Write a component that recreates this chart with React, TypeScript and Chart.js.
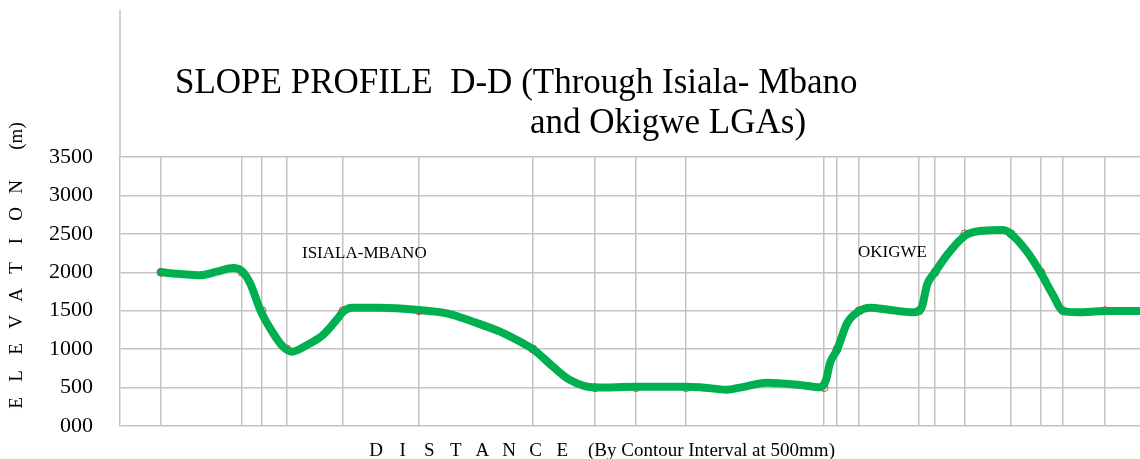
import React, { useEffect, useRef } from "react";
import { Chart, registerables } from "chart.js";

Chart.register(...registerables);

// Survey stations (distance units along the section) and their contour elevations (m)
const stationDistance = [41, 122, 142, 167, 223, 299, 413, 475, 516, 566, 704, 717, 739, 799, 815, 845, 891, 921, 943, 985];
const stationElevation = [2000, 2000, 1500, 1000, 1500, 1500, 1000, 500, 500, 500, 500, 1000, 1500, 1500, 2000, 2500, 2500, 2000, 1500, 1500];

// Smoothed (hand-drawn) profile line
const profileDistance = [41, 63, 80, 97, 113, 122, 130, 141, 153, 163, 172, 187, 203, 218, 223, 232, 260, 299, 327, 353, 380, 403, 413, 433, 450, 475, 517, 565, 580, 607, 620, 647, 680, 700, 706, 710, 717, 727, 738, 750, 770, 793, 798, 802, 807, 815, 827, 845, 863, 883, 890, 907, 920, 933, 943, 957, 985, 1020];
const profileElevation = [2000, 1974, 1962, 2008, 2055, 2015, 1860, 1487, 1210, 1032, 967, 1054, 1184, 1405, 1487, 1540, 1540, 1510, 1466, 1357, 1227, 1076, 1000, 772, 598, 500, 510, 510, 505, 472, 500, 563, 533, 503, 598, 820, 989, 1336, 1487, 1540, 1510, 1479, 1490, 1552, 1834, 2000, 2225, 2476, 2541, 2550, 2510, 2268, 2008, 1704, 1496, 1479, 1496, 1496];

const yTickValues = [0, 500, 1000, 1500, 2000, 2500, 3000, 3500];
const yTickLabels = ["000", "500", "1000", "1500", "2000", "2500", "3000", "3500"];

const titleLine1 = "SLOPE PROFILE  D-D (Through Isiala- Mbano";
const titleLine2 = "and Okigwe LGAs)";
const yAxisTitleLetters = ["E", "L", "E", "V", "A", "T", "I", "O", "N"];
const yAxisUnit = "(m)";
const xAxisTitleLetters = ["D", "I", "S", "T", "A", "N", "C", "E"];
const xAxisNote = "(By Contour Interval at 500mm)";
const annotations = [
  { text: "ISIALA-MBANO", x: 302, y: 258 },
  { text: "OKIGWE", x: 858, y: 257 },
];

const SERIF = "'Liberation Serif', 'Times New Roman', serif";
const GRID = "#c3c3c3";

const decorPlugin = {
  id: "decor",
  afterDraw(chart: any) {
    const ctx = chart.ctx as CanvasRenderingContext2D;
    const area = chart.chartArea;
    ctx.save();
    // extended left frame line
    ctx.strokeStyle = GRID;
    ctx.lineWidth = 1.5;
    ctx.beginPath();
    ctx.moveTo(area.left, 10);
    ctx.lineTo(area.left, area.top);
    ctx.stroke();

    ctx.fillStyle = "#000";
    ctx.textBaseline = "alphabetic";
    ctx.textAlign = "left";
    ctx.font = `35px ${SERIF}`;
    ctx.fillText(titleLine1, 175, 93);
    ctx.fillText(titleLine2, 530, 133);

    ctx.font = `17px ${SERIF}`;
    annotations.forEach((a) => ctx.fillText(a.text, a.x, a.y));

    // x axis title
    ctx.font = `19px ${SERIF}`;
    ctx.textAlign = "center";
    xAxisTitleLetters.forEach((ch, i) => ctx.fillText(ch, 376 + i * 26.6, 456));
    ctx.textAlign = "left";
    ctx.fillText(xAxisNote, 588, 456);

    // y axis title (rotated)
    ctx.font = `19px ${SERIF}`;
    ctx.textAlign = "center";
    ctx.textBaseline = "middle";
    const drawRot = (t: string, x: number, y: number) => {
      ctx.save();
      ctx.translate(x, y);
      ctx.rotate(-Math.PI / 2);
      ctx.fillText(t, 0, 0);
      ctx.restore();
    };
    yAxisTitleLetters.forEach((ch, i) => drawRot(ch, 17, 403 - i * 27));
    drawRot(yAxisUnit, 17, 136);
    ctx.restore();
  },
};

export default function App() {
  const ref = useRef<HTMLCanvasElement | null>(null);
  useEffect(() => {
    if (!ref.current) return;
    const chart = new Chart(ref.current, {
      type: "line",
      data: {
        datasets: [
          {
            label: "Profile",
            data: profileDistance.map((d, i) => ({ x: d, y: profileElevation[i] })),
            borderColor: "#00b050",
            borderWidth: 8,
            pointRadius: 0,
            cubicInterpolationMode: "monotone",
            fill: false,
            order: 0,
            borderCapStyle: "round",
            borderJoinStyle: "round",
          },
          {
            label: "Stations",
            data: stationDistance.map((d, i) => ({ x: d, y: stationElevation[i] })),
            showLine: false,
            pointRadius: 4,
            pointBorderColor: "#ff3030",
            pointBackgroundColor: "rgba(255,255,255,0)",
            pointBorderWidth: 1,
            order: 1,
          },
        ],
      },
      options: {
        animation: false,
        responsive: false,
        devicePixelRatio: 1,
        layout: { autoPadding: false, padding: { top: 157, left: 0, right: 0, bottom: 0 } },
        plugins: { legend: { display: false }, tooltip: { enabled: false }, title: { display: false } },
        scales: {
          x: {
            type: "linear",
            min: 0,
            max: 1020,
            afterBuildTicks: (scale: any) => {
              scale.ticks = stationDistance.map((v) => ({ value: v }));
            },
            afterFit: (scale: any) => {
              scale.height = 33;
            },
            ticks: { display: false },
            grid: { color: GRID, lineWidth: 1.5, drawTicks: false },
            border: { display: false },
          },
          y: {
            min: 0,
            max: 3500,
            afterBuildTicks: (scale: any) => {
              scale.ticks = yTickValues.map((v) => ({ value: v }));
            },
            afterFit: (scale: any) => {
              scale.width = 120;
              scale.paddingTop = 0;
              scale.paddingBottom = 0;
            },
            ticks: {
              color: "#000",
              font: { family: SERIF, size: 22 },
              padding: 27,
              callback: (v: any) => {
                const idx = yTickValues.indexOf(Number(v));
                return idx >= 0 ? yTickLabels[idx] : "";
              },
            },
            grid: { color: GRID, lineWidth: 1.5, drawTicks: false },
            border: { color: GRID, width: 1.5 },
          },
        },
      },
      plugins: [decorPlugin],
    } as any);
    return () => chart.destroy();
  }, []);
  return (
    <div style={{ position: "absolute", left: 0, top: 0, width: 1140, height: 459, background: "#fff" }}>
      <canvas ref={ref} width={1140} height={459} />
    </div>
  );
}
